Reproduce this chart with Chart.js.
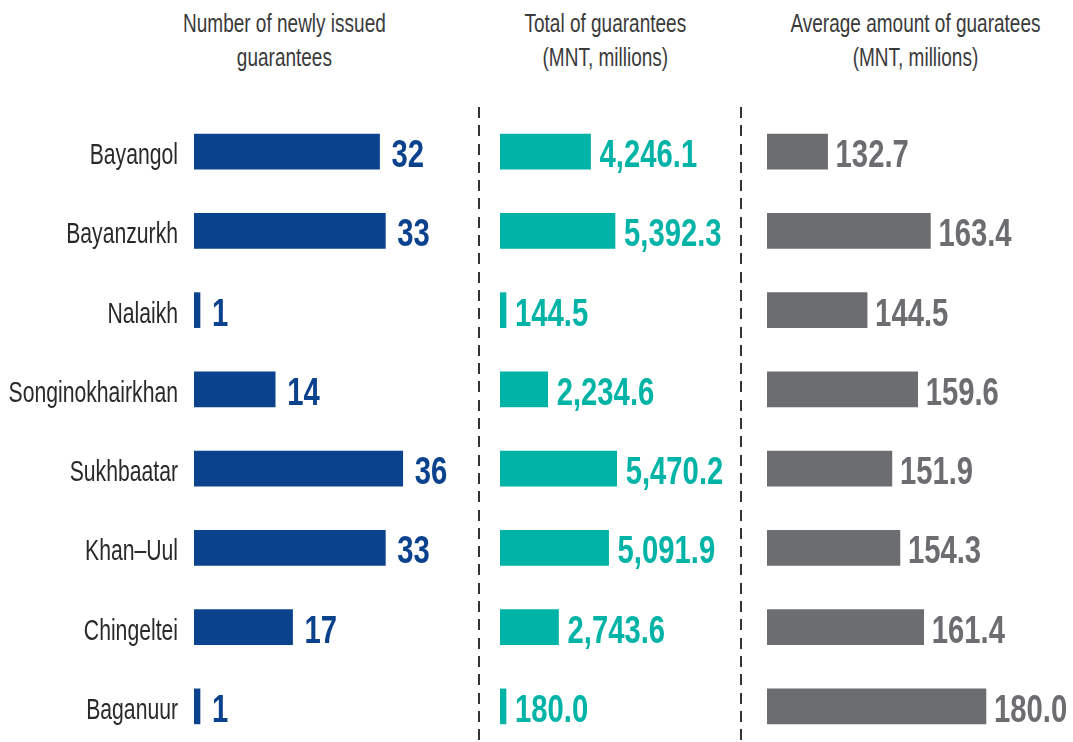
<!DOCTYPE html>
<html>
<head>
<meta charset="utf-8">
<script src="https://cdn.jsdelivr.net/npm/chart.js@4/dist/chart.umd.min.js"></script>
<style>
  html, body { margin: 0; padding: 0; background: #fff; width: 1073px; height: 742px; overflow: hidden; }
  body { position: relative; font-family: 'Liberation Sans', Arial, sans-serif; }
  .title { position: absolute; top: 6px; width: 400px; margin-left: -200px; text-align: center; }
  .title span { display: inline-block; font-size: 25px; line-height: 34px; color: #3a3a3a;
    white-space: nowrap; transform: scaleX(0.76); transform-origin: 50% 50%; }
  .panel { position: absolute; top: 112px; height: 634px; }
  .divider { position: absolute; top: 107px; width: 2px; height: 640px;
    background: repeating-linear-gradient(to bottom, #333 0, #333 11px, transparent 11px, transparent 18.3px); }
</style>
</head>
<body>
<div class="title" style="left:284px"><span>Number of newly issued<br>guarantees</span></div>
<div class="title" style="left:605px"><span>Total of guarantees<br>(MNT, millions)</span></div>
<div class="title" style="left:915px"><span>Average amount of guaratees<br>(MNT, millions)</span></div>

<div class="divider" style="left:478px"></div>
<div class="divider" style="left:740px"></div>

<div class="panel" style="left:0; width:470px"><canvas id="countChart"></canvas></div>
<div class="panel" style="left:480px; width:261px"><canvas id="totalChart"></canvas></div>
<div class="panel" style="left:741px; width:332px"><canvas id="avgChart"></canvas></div>

<script>
// Districts of Ulaanbaatar
const districts = ['Bayangol', 'Bayanzurkh', 'Nalaikh', 'Songinokhairkhan', 'Sukhbaatar', 'Khan\u2013Uul', 'Chingeltei', 'Baganuur'];
// Number of newly issued guarantees
const newGuarantees = [32, 33, 1, 14, 36, 33, 17, 1];
// Total of guarantees, MNT millions
const totalGuarantees = [4246.1, 5392.3, 144.5, 2234.6, 5470.2, 5091.9, 2743.6, 180.0];
// Average amount of guarantees, MNT millions
const avgGuarantees = [132.7, 163.4, 144.5, 159.6, 151.9, 154.3, 161.4, 180.0];

const FONT = "'Liberation Sans', Arial, sans-serif";

const fmtInt = v => String(v);
const fmtDec = v => v.toLocaleString('en-US', { minimumFractionDigits: 1, maximumFractionDigits: 1 });

// Condensed text: the face is squeezed horizontally around its anchor point
function narrowText(ctx, text, x, y, squeeze, align) {
  ctx.save();
  ctx.translate(x, y);
  ctx.scale(squeeze, 1);
  ctx.textAlign = align;
  ctx.textBaseline = 'alphabetic';
  ctx.fillText(text, 0, 0);
  ctx.restore();
}

// Writes each bar's value past its end, and the district names left of the bars
const barText = {
  id: 'barText',
  afterDatasetsDraw(chart, args, opts) {
    const ctx = chart.ctx;
    const ds = chart.data.datasets[0];
    const meta = chart.getDatasetMeta(0);
    const yScale = chart.scales.y;
    ctx.save();
    ctx.font = 'bold 38px ' + FONT;
    ctx.fillStyle = opts.color;
    meta.data.forEach((bar, i) => {
      narrowText(ctx, opts.format(ds.data[i]), bar.x + opts.gap, bar.y + 15.5, 0.77, 'left');
    });
    if (opts.categories) {
      ctx.font = '29px ' + FONT;
      ctx.fillStyle = '#2a2a2a';
      chart.data.labels.forEach((name, i) => {
        narrowText(ctx, name, chart.chartArea.left - 16, yScale.getPixelForValue(i) + 12.5, 0.73, 'right');
      });
    }
    ctx.restore();
  }
};

function makeChart(id, values, color, xMin, xMax, format, gap, padLeft, categories) {
  return new Chart(document.getElementById(id), {
    type: 'bar',
    data: {
      labels: districts,
      datasets: [{
        data: values,
        backgroundColor: color,
        barThickness: 35,
        minBarLength: 6
      }]
    },
    options: {
      indexAxis: 'y',
      responsive: true,
      maintainAspectRatio: false,
      animation: false,
      layout: { padding: { left: padLeft, right: 0, top: 0, bottom: 0 } },
      plugins: {
        legend: { display: false },
        tooltip: { enabled: false },
        barText: { color: color, format: format, gap: gap, categories: categories }
      },
      scales: {
        x: { display: false, min: xMin, max: xMax },
        y: { display: false }
      }
    },
    plugins: [barText]
  });
}

makeChart('countChart', newGuarantees, '#0b428d', 0, 47.6, fmtInt, 12, 194, true);
makeChart('totalChart', totalGuarantees, '#00b3a7', 0, 11300, fmtDec, 9, 20, false);
makeChart('avgChart', avgGuarantees, '#6c6d71', 114.6, 206, fmtDec, 8, 26, false);
</script>
</body>
</html>
